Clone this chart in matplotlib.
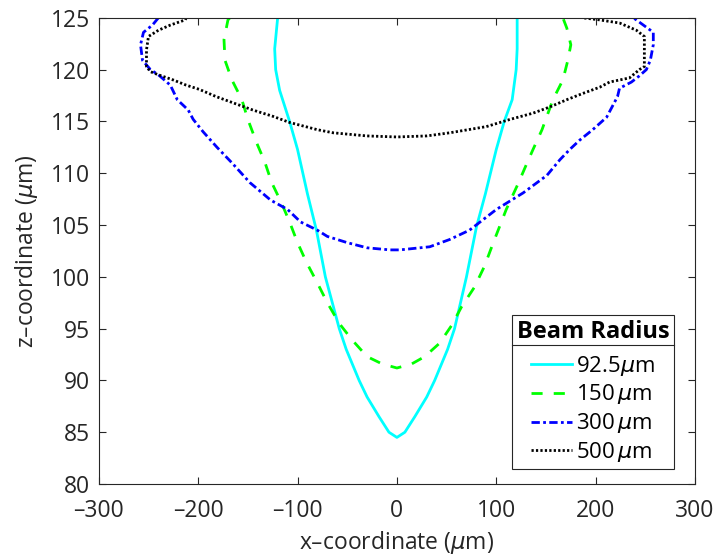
import matplotlib
matplotlib.use("Agg")
import matplotlib.pyplot as plt
from matplotlib.lines import Line2D

plt.rcParams['font.family'] = ['Open Sans', 'DejaVu Sans']
plt.rcParams['mathtext.fontset'] = 'dejavusans'

# ---- data (x in um, z in um) ----
labels = ['92.5$\\mu$m', '150$\\,\\mu$m', '300$\\,\\mu$m', '500$\\,\\mu$m']

x_925 = [-120, -123, -122, -118, -108, -100, -90, -81, -72, -58, -51, -38, -30, -18, -8, 0,
         8, 18, 30, 38, 51, 58, 70, 80, 89, 100, 108, 116, 120, 121, 121]
z_925 = [125, 122, 120, 118, 115, 112.3, 108, 104.5, 100, 95, 93, 90, 88.4, 86.5, 85, 84.5,
         85, 86.5, 88.4, 90, 93, 95, 100, 104.8, 108, 112.3, 115, 117.1, 120, 122, 125]

x_150 = [-168, -170, -174, -173, -166, -156, -150, -141, -133, -126, -116, -108, -100, -91, -80,
         -70, -58, -45, -30, -15, 0,
         15, 28, 43, 55, 65, 78, 88, 97, 110, 122, 131, 137, 146, 157, 167, 172, 175, 171, 167]
z_150 = [125, 124.8, 122.9, 120.9, 119, 117.1, 115.2, 112.9, 111.1, 109.1, 107.1, 105.3, 103.3,
         101.4, 99.4, 97.5, 95.5, 93.9, 92.3, 91.6, 91.2,
         91.6, 92.3, 93.6, 95.3, 97.1, 99, 101, 103.3, 106.5, 109, 111, 112.3, 114.2, 117.1, 119,
         120.9, 122.4, 124, 125]

x_300 = [-240, -246, -255, -258, -256, -248, -240, -228, -221, -210, -205, -195, -181, -166,
         -148, -127, -110, -97, -80, -70, -50, -30, -7, 0,
         3, 33, 53, 73, 100, 127, 151, 164, 174, 184, 197, 211, 222, 224, 236, 244, 251, 255,
         258, 258, 238]
z_300 = [125, 124.3, 123.6, 122.4, 120.9, 120, 119.5, 118.5, 117.1, 116.1, 115.2, 114.0, 112.5,
         111.0, 109.1, 107.4, 106.5, 105.3, 104.5, 103.9, 103.3, 102.8, 102.6, 102.6,
         102.6, 102.9, 103.6, 104.5, 106.5, 108.1, 109.8, 111.3, 112.3, 113.2, 114.2, 115.4,
         117.4, 118.2, 118.8, 119.4, 120.0, 120.9, 122.4, 123.6, 125]

x_500 = [-212, -213, -228, -240, -250, -252, -252, -248, -240, -225, -212, -199, -182, -165, -145,
         -125, -108, -80, -64, -30, 0,
         30, 53, 90, 114, 137, 154, 171, 187, 204, 214, 234, 244, 249, 249, 249, 241, 224, 204, 187]
z_500 = [125, 124.8, 124.3, 123.8, 123.2, 121.9, 120.3, 119.8, 119.5, 119, 118.5, 118.1, 117.4,
         116.8, 116.1, 115.5, 114.9, 114.2, 113.9, 113.6, 113.5,
         113.6, 113.9, 114.5, 115.2, 115.8, 116.4, 117.1, 117.7, 118.3, 118.8, 119.2, 120, 120.3,
         121.9, 123.2, 123.8, 124.5, 124.8, 125]

x_ticks = [-300, -200, -100, 0, 100, 200, 300]
z_ticks = [80, 85, 90, 95, 100, 105, 110, 115, 120, 125]

fig = plt.figure(figsize=(7.21, 5.57), dpi=100)
ax = fig.add_axes([0.137, 0.131, 0.827, 0.837])

ax.plot(x_925, z_925, color='#00FFFF', lw=2.0, ls='-', label=labels[0])
ax.plot(x_150, z_150, color='#00FF00', lw=2.0, ls=(0, (4, 4)), label=labels[1])
ax.plot(x_300, z_300, color='#0000FF', lw=2.0, ls=(0, (3, 1.2, 1, 1.2)), label=labels[2])
ax.plot(x_500, z_500, color='#000000', lw=2.0, ls=(0, (0.8, 0.8)), label=labels[3])

ax.set_xlim(-300, 300)
ax.set_ylim(80, 125)
ax.set_xticks(x_ticks)
ax.set_yticks(z_ticks)
ax.set_xticklabels([str(v).replace('-', '\u2013') for v in x_ticks])
ax.tick_params(direction='in', top=True, right=True, labelsize=16.5,
               colors='#262626', length=5, width=0.8)
ax.tick_params(axis='y', pad=6)
ax.tick_params(axis='x', pad=11)
for s in ax.spines.values():
    s.set_color('#262626')
    s.set_linewidth(0.8)

ax.set_xlabel('x\u2013coordinate ($\\mu$m)', fontsize=16.5, color='#262626', labelpad=4)
ax.set_ylabel('z\u2013coordinate ($\\mu$m)', fontsize=16.5, color='#262626', labelpad=8)

leg = ax.legend(loc='lower right', bbox_to_anchor=(0.965, 0.032), borderaxespad=0,
                fontsize=16, title='Beam Radius',
                title_fontproperties={'weight': 'bold', 'size': 17},
                fancybox=False, edgecolor='#262626', framealpha=1, handlelength=1.85,
                handletextpad=0.15, labelspacing=0.22, borderpad=0.22)
leg.get_frame().set_linewidth(0.8)
leg._legend_box.sep = 7

fig.canvas.draw()
r = fig.canvas.get_renderer()
fb = leg.get_frame().get_window_extent(r)
tb = leg.get_title().get_window_extent(r)
ysep = tb.y0 - 1
x0, x1 = fig.transFigure.inverted().transform([[fb.x0, ysep], [fb.x1, ysep]])
fig.add_artist(Line2D([x0[0], x1[0]], [x0[1], x1[1]], color='#262626', lw=0.8,
                      transform=fig.transFigure))

fig.savefig('out.png', dpi=100)
